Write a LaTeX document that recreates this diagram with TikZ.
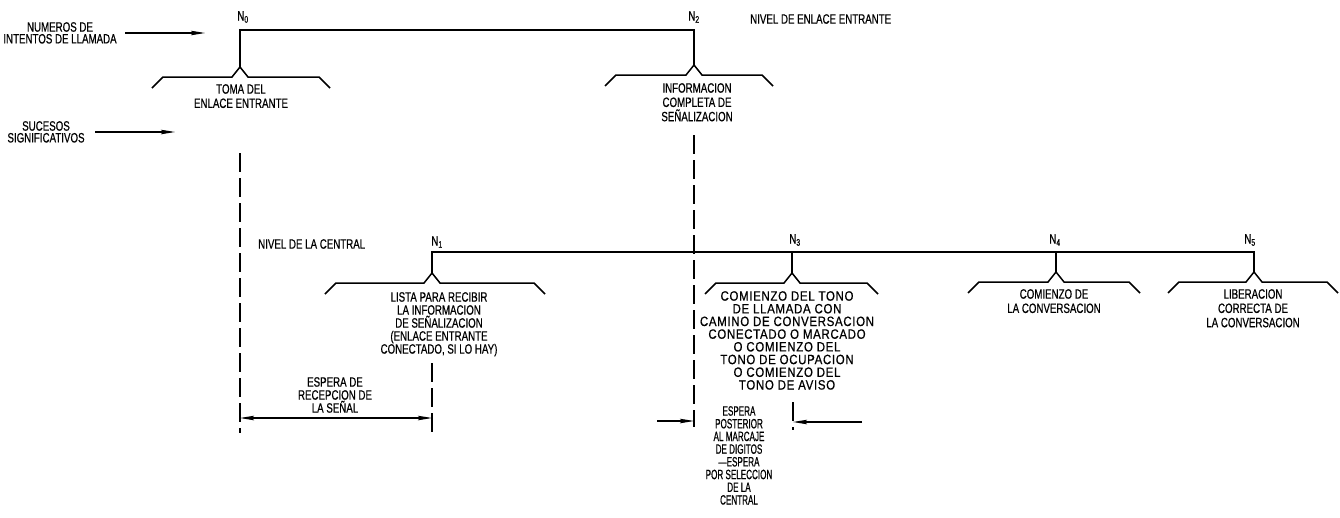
\documentclass[tikz,border=0pt]{standalone}
\usepackage{fontspec}
\setmainfont[FakeStretch=0.72,FakeBold=0.6]{Liberation Sans}
\newfontfamily\spacedfont[FakeStretch=0.85,LetterSpace=5,FakeBold=0.6]{Liberation Sans}
\newfontfamily\slimfont[FakeStretch=0.6,FakeBold=0.6]{Liberation Sans}
\usetikzlibrary{arrows.meta}

\tikzset{
  level/.style={line width=1.8pt, line join=miter},
  evbracket/.style={line width=1.5pt, line join=miter},
  guide/.style={line width=1.2pt, dash pattern=on 19pt off 6pt},
  pointer/.style={line width=1.1pt, -{Stealth[length=14pt,width=4.5pt,inset=2pt]}},
  span/.style={line width=1.1pt, {Stealth[length=14pt,width=4.5pt,inset=2pt]}-{Stealth[length=14pt,width=4.5pt,inset=2pt]}},
  txt/.style={align=center, inner sep=0pt, anchor=north, font=\fontsize{13.5}{13}\selectfont},
  txtloose/.style={txt, font=\fontsize{13.5}{14.3}\selectfont},
  txttight/.style={txt, font=\fontsize{13.5}{11.8}\selectfont},
  nlab/.style={inner sep=0pt, font=\fontsize{13.5}{13}\selectfont},
  pics/evbrace/.style 2 args={code={
    \draw[evbracket] (-#1,21) -- (-#1+11,10) -- (-8,10) -- (0,0)
      -- (8,10) -- (#2-11,10) -- (#2,21);}}
}

\begin{document}
\begin{tikzpicture}[x=1pt,y=-1pt]
\fill[white] (0,0) rectangle (1340,517);
\useasboundingbox (0,0) rectangle (1340,517);

% branch corners and bracket tips
\coordinate (c0) at (240,30);   \coordinate (t0) at (240,67);
\coordinate (c2) at (694,30);   \coordinate (t2) at (694,65);
\coordinate (c1) at (432,252);  \coordinate (t1) at (432,273);
\coordinate (c3) at (792,252);  \coordinate (t3) at (792,273);
\coordinate (c4) at (1056,252); \coordinate (t4) at (1056,272);
\coordinate (c5) at (1254,252); \coordinate (t5) at (1254,272);

% incoming-trunk level
\draw[level] (t0) -- (c0) -- (c2) -- (t2);
% exchange level
\draw[level] (t1) -- (c1) -- (c5) -- (t5);
\draw[level] (c3) -- (t3);
\draw[level] (c4) -- (t4);

% event brackets
\pic at (t0) {evbrace={88}{90}};
\pic at (t2) {evbrace={89}{79}};
\pic at (t1) {evbrace={107}{113}};
\pic at (t3) {evbrace={87}{86}};
\pic at (t4) {evbrace={88}{84}};
\pic at (t5) {evbrace={86}{84}};

% node labels
\node[nlab] (n0) at (243,17) {N\textsubscript{0}};
\node[nlab] (n2) at (694,17) {N\textsubscript{2}};
\node[nlab] (n1) at (437,242) {N\textsubscript{1}};
\node[nlab] (n3) at (795,240) {N\textsubscript{3}};
\node[nlab] (n4) at (1055,240) {N\textsubscript{4}};
\node[nlab] (n5) at (1250,240) {N\textsubscript{5}};

% level names
\node[nlab, anchor=west] (lvlin) at (750,19) {NIVEL DE ENLACE ENTRANTE};
\node[nlab, anchor=west] (lvlex) at (258,244) {NIVEL DE LA CENTRAL};

% event descriptions
\node[txtloose] (e0) at (241,84) {TOMA DEL\\ENLACE ENTRANTE};
\node[txtloose] (e2) at (697,83) {INFORMACION\\COMPLETA DE\\SEÑALIZACION};
\node[txt] (e1) at (439,292) {LISTA PARA RECIBIR\\LA INFORMACION\\DE SEÑALIZACION\\(ENLACE ENTRANTE\\CONECTADO, SI LO HAY)};
\node[txt, font=\spacedfont\fontsize{13.5}{12.7}\selectfont] (e3) at (787,291)
  {COMIENZO DEL TONO\\DE LLAMADA CON\\CAMINO DE CONVERSACION\\CONECTADO O MARCADO\\O COMIENZO DEL\\TONO DE OCUPACION\\O COMIENZO DEL\\TONO DE AVISO};
\node[txtloose] (e4) at (1054,289) {COMIENZO DE\\LA CONVERSACION};
\node[txtloose] (e5) at (1253,289) {LIBERACION\\CORRECTA DE\\LA CONVERSACION};

% side captions and their pointers
\node[txttight] (q1) at (60,22) {NUMEROS DE\\INTENTOS DE LLAMADA};
\coordinate (q1a) at (125,33); \coordinate (q1b) at (205,33);
\draw[pointer] (q1a) -- (q1b);
\node[txttight] (q2) at (46,121) {SUCESOS\\SIGNIFICATIVOS};
\coordinate (q2a) at (95,132); \coordinate (q2b) at (175,132);
\draw[pointer] (q2a) -- (q2b);

% time guides
\coordinate (g0a) at (240,153); \coordinate (g0b) at (240,433);
\coordinate (g2a) at (694,135); \coordinate (g2b) at (694,427);
\coordinate (g1a) at (432,363); \coordinate (g1b) at (432,433);
\coordinate (g3a) at (793,402); \coordinate (g3b) at (793,430);
\draw[guide] (g0a) -- (g0b);
\draw[guide] (g2a) -- (g2b);
\draw[guide] (g1a) -- (g1b);
\draw[guide] (g3a) -- (g3b);

% waiting intervals
\node[txt] (w1) at (335,377) {ESPERA DE\\RECEPCION DE\\LA SEÑAL};
\coordinate (w1a) at (240,418); \coordinate (w1b) at (432,418);
\draw[span] (w1a) -- (w1b);

\node[txt, font=\slimfont\fontsize{13.5}{12.7}\selectfont] (w2) at (739,406)
  {ESPERA\\POSTERIOR\\AL MARCAJE\\DE DIGITOS\\—ESPERA\\POR SELECCION\\DE LA\\CENTRAL};
\coordinate (w2a) at (657,421); \coordinate (w2b) at (694,421);
\coordinate (w2c) at (862,422); \coordinate (w2d) at (793,422);
\draw[pointer] (w2a) -- (w2b);
\draw[pointer] (w2c) -- (w2d);
\end{tikzpicture}
\end{document}
